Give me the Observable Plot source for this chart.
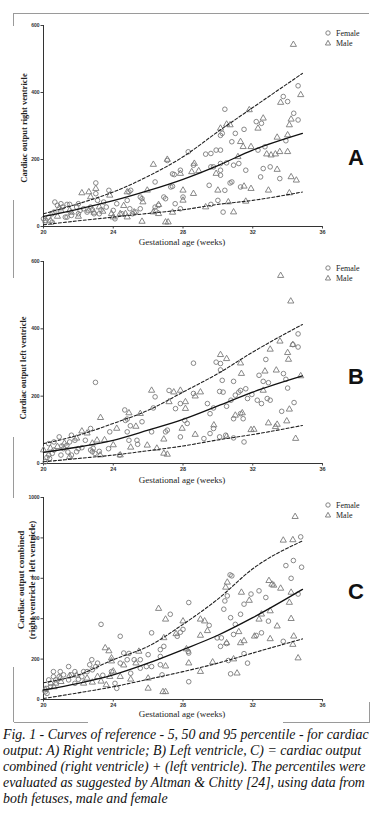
<!DOCTYPE html>
<html>
<head>
<meta charset="utf-8">
<script src="https://cdn.jsdelivr.net/npm/d3@7"></script>
<script src="https://cdn.jsdelivr.net/npm/@observablehq/plot@0.6"></script>
<style>
  html, body { margin: 0; padding: 0; background: #fff; }
  #fig { position: relative; width: 375px; height: 821px; overflow: hidden; }
  .panel { position: absolute; left: 0; width: 375px; }
  .panel svg { display: block; }
  .seg { position: absolute; background: #9a9a9a; }
  .lbl { position: absolute; font-family: "Liberation Serif", "DejaVu Serif", serif; color: #222; white-space: nowrap; }
  .xt { font-size: 9px; transform: translate(-50%, -50%); }
  .yt { font-weight: bold; transform: translate(-50%, -50%) rotate(-90deg); text-align: center; }
  .leg { font-size: 8px; transform: translate(0, -50%); }
  .letter { position: absolute; font-family: "Liberation Sans", Arial, sans-serif; font-weight: bold; font-size: 22px; color: #111; transform: translate(-50%, -50%); }
  .sym { position: absolute; transform: translate(-50%, -50%); }
  #caption { position: absolute; left: 3px; top: 727px; font-family: "Liberation Serif", "DejaVu Serif", serif; font-style: italic; font-size: 14px; line-height: 16px; color: #111; white-space: nowrap; }
  .probe { position: absolute; visibility: hidden; white-space: nowrap; font-family: "Liberation Serif", "DejaVu Serif", serif; font-style: italic; font-size: 20px; }
</style>
</head>
<body>
<div id="fig"></div>
<script>
// ---------- data ----------
const xTicks = [20, 24, 28, 32, 36];
const abYTicks = [0, 200, 400, 600];
const cYTicks = [0, 200, 400, 600, 800, 1000];
const curveWeeks = [20, 22, 24, 26, 28, 30, 32, 34.85];

// Panel A: right ventricle
const aP5  = [5, 17, 28, 39, 50, 66, 78, 103];
const aP50 = [30, 52, 77, 107, 141, 182, 228, 278];
const aP95 = [38, 68, 103, 150, 208, 283, 355, 457];
const aFemale = [
  [34.6,420],[33.75,388],[34.0,373],[34.35,338],[34.6,318],[33.9,256],[33.55,143],[33.0,178],
  [32.2,313],[32.5,308],[32.7,238],[32.3,228],[32.6,173],[32.45,148],
  [31.5,290],[31.0,278],[30.8,253],[31.2,188],[31.6,168],[30.9,183],[30.7,130],[30.8,133],[31.3,118],[30.4,108],[30.4,350],[30.3,43],
  [30.25,278],[30.15,272],[29.9,228],[30.15,228],[29.6,218],[29.3,216],[29.6,178],[29.75,178],[30.15,188],[30.15,168],[30.15,153],[30.5,190],
  [29.5,123],[29.6,66],[30.0,78],[28.6,183],[28.3,223],[28.0,88],[27.85,168],[27.5,155],
  [27.3,118],[27.4,120],[26.9,88],[27.55,68],[27.85,53],[26.4,133],[26.4,48],[26.4,58],[27.1,197],[27.4,157],[27.0,83],
  [25.55,88],[25.65,83],[25.55,53],[25.3,43],[24.9,103],[25.0,108],[24.8,78],[24.95,53],[25.1,38],
  [24.2,68],[23.75,108],[24.1,23],[24.0,48],[23.45,73],[23.2,38],[23.0,98],[23.0,130],[23.1,78],
  [22.7,58],[22.8,50],[22.9,38],[22.0,38],[22.1,48],[22.0,68],[21.9,58],[21.35,66],[21.5,66],[21.6,33],[21.35,28],
  [21.0,68],[20.8,63],[21.25,28],[20.65,73],[20.5,38],[20.1,18],[20.0,23],[20.1,13],[20.5,13],[20.6,43],[20.3,28],
  [21.1,58],[22.3,53],[22.5,43],[23.3,50],[23.6,58],[24.5,38],[26.6,63]
];
const aMale = [
  [34.33,543],[34.75,393],[33.6,370],[34.2,320],[34.1,303],[34.0,273],[33.4,266],[33.55,223],[34.0,223],[33.3,216],[34.2,148],[34.5,138],[33.4,170],[34.1,100],
  [32.6,323],[32.3,293],[32.8,216],[33.05,213],[31.8,348],[31.3,253],[31.45,238],[31.15,208],[31.9,238],[31.9,113],[30.9,43],[31.5,120],
  [30.7,303],[30.5,305],[30.15,293],[30.0,108],[29.9,158],[28.9,166],[28.5,163],[28.65,188],[28.0,108],[28.0,78],[28.6,98],[27.85,158],
  [27.1,200],[26.3,185],[27.0,13],[27.15,13],[26.6,38],[26.3,43],[25.65,15],[25.7,73],[25.95,108],[24.8,103],[24.8,28],[25.2,43],[24.7,38],
  [23.8,93],[24.4,38],[23.9,38],[24.0,28],[23.2,58],[23.0,113],[22.6,103],[22.7,88],[22.2,100],[22.6,48],[22.9,42],[21.5,48],[21.6,42],
  [21.0,48],[20.9,55],[20.4,18],[20.8,30],[22.0,30],[23.4,45],[24.6,62],[26.6,65],[27.4,42],[29.3,58],[30.6,73],[31.6,75],[32.9,108]
];

// Panel B: left ventricle
const bP5  = [5, 15, 25, 38, 52, 70, 86, 113];
const bP50 = [33, 49, 69, 99, 131, 171, 212, 260];
const bP95 = [59, 84, 119, 158, 212, 267, 331, 413];
const bFemale = [
  [28.6,298],[29.9,301],[30.15,297],[30.15,278],[30.25,247],[30.9,244],[30.1,214],[30.3,212],[29.4,178],[29.55,148],[29.75,104],[30.1,79],
  [29.55,89],[29.2,74],[30.45,84],[30.9,76],[31.5,64],[30.75,188],[31.0,203],[31.2,212],[31.3,217],[31.6,222],[31.7,193],[31.95,205],
  [32.26,188],[32.5,178],[32.83,193],[33.0,188],[32.36,262],[32.75,309],[32.6,244],[32.9,240],[33.76,267],[33.9,250],[34.6,385],[34.6,346],
  [34.3,353],[34.37,181],[33.66,155],[34.0,224],[31.45,133],[30.9,133],[31.3,148],[30.5,170],[29.75,165],
  [28.6,208],[27.85,178],[27.57,163],[27.2,217],[26.4,198],[26.3,165],[28.24,119],[28.1,128],[27.85,79],[27.0,94],[27.1,99],[26.2,94],
  [25.36,69],[25.4,57],[25.65,124],[24.98,112],[24.9,69],[24.66,159],[24.7,128],[24.8,132],[24.8,94],[23.8,94],[24.37,25],[23.73,44],
  [22.98,241],[22.7,104],[22.4,69],[22.7,40],[22.8,35],[22.95,30],[22.85,45],[22.0,44],[21.8,69],[21.6,84],[21.5,64],[21.34,54],
  [21.15,44],[21.05,52],[20.9,79],[20.6,64],[20.6,40],[20.3,25],[20.2,18],[20.1,5],[20.3,59],[20.35,15],[20.5,30],[21.6,25],[21.9,35],
  [22.2,47],[21.4,34],[21.0,25],[23.2,36]
];
const bMale = [
  [33.6,558],[34.18,482],[33.35,277],[33.56,363],[34.0,329],[34.05,309],[34.3,353],[34.75,260],[34.1,161],[33.95,126],[34.46,74],[33.4,116],
  [33.3,109],[33.0,339],[32.7,274],[32.07,101],[32.6,217],[30.15,323],[30.5,311],[31.3,298],[31.35,267],[31.0,143],[31.4,150],[29.77,114],
  [29.0,212],[28.7,200],[28.14,183],[28.14,163],[27.85,217],[27.47,212],[27.2,183],[26.2,217],[26.9,72],[27.1,27],[26.9,30],[27.95,104],
  [28.7,86],[25.95,54],[25.55,148],[24.2,104],[23.27,136],[23.07,69],[23.25,25],[22.2,96],[22.5,90],[21.9,75],[21.2,60],[20.8,50],
  [20.4,45],[20.0,40],[21.5,20],[22.8,60],[23.5,70],[24.0,55],[24.4,25],[25.0,48],[26.5,45],[30.5,80],[31.9,100],[32.9,120],[25.3,110],[24.9,150]
];

// Panel C: combined
const cP5  = [5, 33, 63, 100, 138, 180, 230, 300];
const cP50 = [47, 80, 122, 180, 247, 318, 405, 545];
const cP95 = [83, 122, 197, 263, 372, 497, 647, 785];
const cFemale = [
  [34.75,805],[34.33,688],[33.9,663],[34.2,600],[34.8,655],[34.6,522],[33.75,288],[32.36,538],[32.75,505],[31.9,522],[31.5,472],[31.3,422],
  [32.9,388],[32.5,330],[32.2,317],[30.7,617],[30.8,612],[30.54,513],[30.4,488],[30.34,447],[30.73,405],[31.0,372],[30.9,322],[31.7,180],
  [31.5,227],[30.6,193],[30.73,127],[30.5,277],[30.15,263],[30.2,305],[29.96,305],[29.5,367],[28.33,480],[28.3,238],[28.33,230],[28.33,88],
  [28.0,347],[27.85,333],[27.67,313],[27.27,422],[26.9,263],[26.7,213],[26.7,247],[26.7,172],[26.8,122],[26.0,222],[26.2,330],[26.2,163],
  [25.9,163],[25.55,155],[25.55,197],[25.2,197],[24.9,228],[24.6,230],[24.4,313],[24.8,197],[24.4,180],[23.9,138],[24.1,80],[24.2,55],
  [23.3,372],[23.1,180],[23.0,163],[22.8,147],[22.77,197],[22.65,172],[22.5,138],[22.3,138],[22.2,113],[21.8,138],[21.6,122],[21.44,97],
  [21.15,122],[20.96,138],[20.9,113],[20.7,97],[20.57,113],[20.4,80],[20.4,63],[20.2,55],[20.1,38],[20.2,30],[20.57,138],[20.3,97],
  [21.44,163],[21.8,80],[22.0,100],[23.4,120],[25.0,130]
];
const cMale = [
  [34.43,905],[33.75,788],[34.3,790],[34.2,530],[34.1,480],[34.2,400],[34.35,313],[34.3,272],[34.6,205],[33.6,550],[32.93,588],[33.1,570],
  [33.2,565],[31.35,530],[31.8,490],[32.36,397],[32.5,422],[33.0,438],[33.4,363],[32.1,313],[30.54,580],[30.45,555],[31.1,130],[31.3,280],
  [30.5,280],[31.2,335],[29.24,388],[29.0,397],[29.0,317],[29.4,340],[28.0,388],[27.6,325],[28.33,180],[29.0,138],[27.0,397],[26.9,305],
  [26.85,38],[27.0,38],[26.6,450],[26.0,105],[26.0,55],[25.47,238],[25.3,180],[24.6,170],[23.9,205],[23.54,255],[23.75,240],[23.9,190],
  [24.0,140],[23.8,113],[23.6,72],[23.1,113],[23.3,90],[22.5,105],[22.3,80],[21.9,120],[21.5,118],[20.96,105],[21.0,88],[20.7,80],
  [20.6,62],[20.1,50],[22.8,85],[24.4,113],[25.0,100],[27.0,165],[28.2,250],[29.7,185],[30.9,200],[33.0,300],[31.5,290]
];

const yLabelA = ["Cardiac output right ventricle"];
const yLabelB = ["Cardiac output left ventricle"];
const yLabelC = ["Cardiac output combined", "(right ventricle + left ventricle)"];
const xLabel = "Gestational age (weeks)";
const legendLabels = ["Female", "Male"];
const captionLines = [
  "Fig. 1 - Curves of reference - 5, 50 and 95 percentile - for cardiac",
  "output: A) Right ventricle; B) Left ventricle, C) = cardiac output",
  "combined (right ventricle) + (left ventricle). The percentiles were",
  "evaluated as suggested by Altman & Chitty [24], using data from",
  "both fetuses, male and female"
];

// ---------- drawing ----------
const fig = document.getElementById("fig");

function seg(x, y, w, h) {
  const d = document.createElement("div");
  d.className = "seg";
  Object.assign(d.style, {left: x + "px", top: y + "px", width: w + "px", height: h + "px"});
  fig.appendChild(d);
}
// scanned frame fragments
seg(14, 13, 355, 1);
seg(13, 13, 1, 13);
seg(13, 200, 1, 78);
seg(13, 437, 1, 61);
seg(13, 667, 1, 55);
seg(14, 722, 74, 1);
seg(283, 722, 87, 1);
seg(369, 702, 1, 20);

function symbolSvg(kind) {
  const s = kind === "circle"
    ? '<circle cx="4" cy="4" r="2.2" fill="none" stroke="#777" stroke-width="0.9"/>'
    : '<path d="M4,1.3 L6.6,6 L1.4,6 Z" fill="none" stroke="#777" stroke-width="0.9"/>';
  return `<svg width="8" height="8">${s}</svg>`;
}

function panel(cfg) {
  const div = document.createElement("div");
  div.className = "panel";
  div.style.top = cfg.top + "px";
  div.style.height = cfg.height + "px";
  fig.appendChild(div);

  const toLine = vals => curveWeeks.map((w, i) => ({w, v: vals[i]}));
  const pts = arr => arr.map(([w, v]) => ({w, v}));

  const svg = Plot.plot({
    width: 375,
    height: cfg.height,
    marginLeft: 43,
    marginRight: 53,
    marginTop: cfg.mt,
    marginBottom: cfg.mb,
    style: {fontFamily: "Liberation Sans, sans-serif", fontSize: "5px", color: "#333", background: "transparent", overflow: "visible"},
    x: {domain: [20, 36]},
    y: {domain: [0, cfg.yMax]},
    marks: [
      Plot.axisX({ticks: xTicks, tickSize: 2.5, tickPadding: 1.5, label: null, fontSize: 5.5, fontWeight: "bold", stroke: "#444", tickFormat: d3.format("d")}),
      Plot.axisY({ticks: cfg.yTicks, tickSize: 2.5, tickPadding: 1.5, label: null, fontSize: 5, fontWeight: "bold", stroke: "#444", tickFormat: d3.format("d")}),
      Plot.ruleX([20], {stroke: "#333", strokeWidth: 1}),
      Plot.ruleY([0], {stroke: "#333", strokeWidth: 1}),
      Plot.dot(pts(cfg.female), {x: "w", y: "v", symbol: "circle", r: 2.3, stroke: "#7a7a7a", strokeWidth: 0.9, fill: "none"}),
      Plot.dot(pts(cfg.male), {x: "w", y: "v", symbol: "triangle", r: 2.3, stroke: "#7a7a7a", strokeWidth: 0.9, fill: "none"}),
      Plot.line(toLine(cfg.p5), {x: "w", y: "v", curve: "monotone-x", stroke: "#222", strokeWidth: 1.1, strokeDasharray: "3,2"}),
      Plot.line(toLine(cfg.p95), {x: "w", y: "v", curve: "monotone-x", stroke: "#222", strokeWidth: 1.1, strokeDasharray: "3,2"}),
      Plot.line(toLine(cfg.p50), {x: "w", y: "v", curve: "monotone-x", stroke: "#111", strokeWidth: 1.3})
    ]
  });
  div.appendChild(svg);

  // x title
  const xt = document.createElement("div");
  xt.className = "lbl xt";
  xt.style.left = "182px";
  xt.style.top = (cfg.xTitleY - cfg.top) + "px";
  xt.textContent = xLabel;
  div.appendChild(xt);

  // y title (one div per line so the lines never overlap)
  cfg.yLabel.forEach((line, i) => {
    const yt = document.createElement("div");
    yt.className = "lbl yt";
    yt.style.left = (cfg.yTitleX + i * cfg.yLine) + "px";
    yt.style.top = (cfg.yTitleY - cfg.top) + "px";
    yt.style.fontSize = cfg.yFont + "px";
    yt.textContent = line;
    div.appendChild(yt);
  });

  // legend
  ["circle", "triangle"].forEach((k, i) => {
    const y = cfg.legY + i * 10 - cfg.top;
    const s = document.createElement("div");
    s.className = "sym";
    s.style.left = "328px";
    s.style.top = y + "px";
    s.innerHTML = symbolSvg(k);
    div.appendChild(s);
    const t = document.createElement("div");
    t.className = "lbl leg";
    t.style.left = "336px";
    t.style.top = y + "px";
    t.textContent = legendLabels[i];
    div.appendChild(t);
  });

  // panel letter
  const L = document.createElement("div");
  L.className = "letter";
  L.style.left = "356px";
  L.style.top = (cfg.letterY - cfg.top) + "px";
  L.textContent = cfg.letter;
  div.appendChild(L);
}

panel({top: 0, height: 250, mt: 25, mb: 24, yMax: 600, yTicks: abYTicks,
  female: aFemale, male: aMale, p5: aP5, p50: aP50, p95: aP95,
  xTitleY: 242, yTitleX: 24, yTitleY: 128, yLabel: yLabelA, yFont: 8.5, yLine: 0, legY: 33, letter: "A", letterY: 158});
panel({top: 250, height: 240, mt: 11, mb: 27, yMax: 600, yTicks: abYTicks,
  female: bFemale, male: bMale, p5: bP5, p50: bP50, p95: bP95,
  xTitleY: 480, yTitleX: 23, yTitleY: 368, yLabel: yLabelB, yFont: 8.5, yLine: 0, legY: 268, letter: "B", letterY: 377});
panel({top: 490, height: 232, mt: 7, mb: 23, yMax: 1000, yTicks: cYTicks,
  female: cFemale, male: cMale, p5: cP5, p50: cP50, p95: cP95,
  xTitleY: 714, yTitleX: 21, yTitleY: 580, yLabel: yLabelC, yFont: 9, yLine: 11, legY: 505, letter: "C", letterY: 592});

// caption, sized so its widest line spans the figure like the reference
const probe = document.createElement("span");
probe.className = "probe";
probe.textContent = captionLines[0];
fig.appendChild(probe);
const capSize = Math.min(16, 20 * 366 / probe.getBoundingClientRect().width);
probe.remove();

const cap = document.createElement("div");
cap.id = "caption";
cap.style.fontSize = capSize.toFixed(2) + "px";
captionLines.forEach(line => {
  const l = document.createElement("div");
  l.textContent = line;
  cap.appendChild(l);
});
fig.appendChild(cap);
</script>
</body>
</html>
